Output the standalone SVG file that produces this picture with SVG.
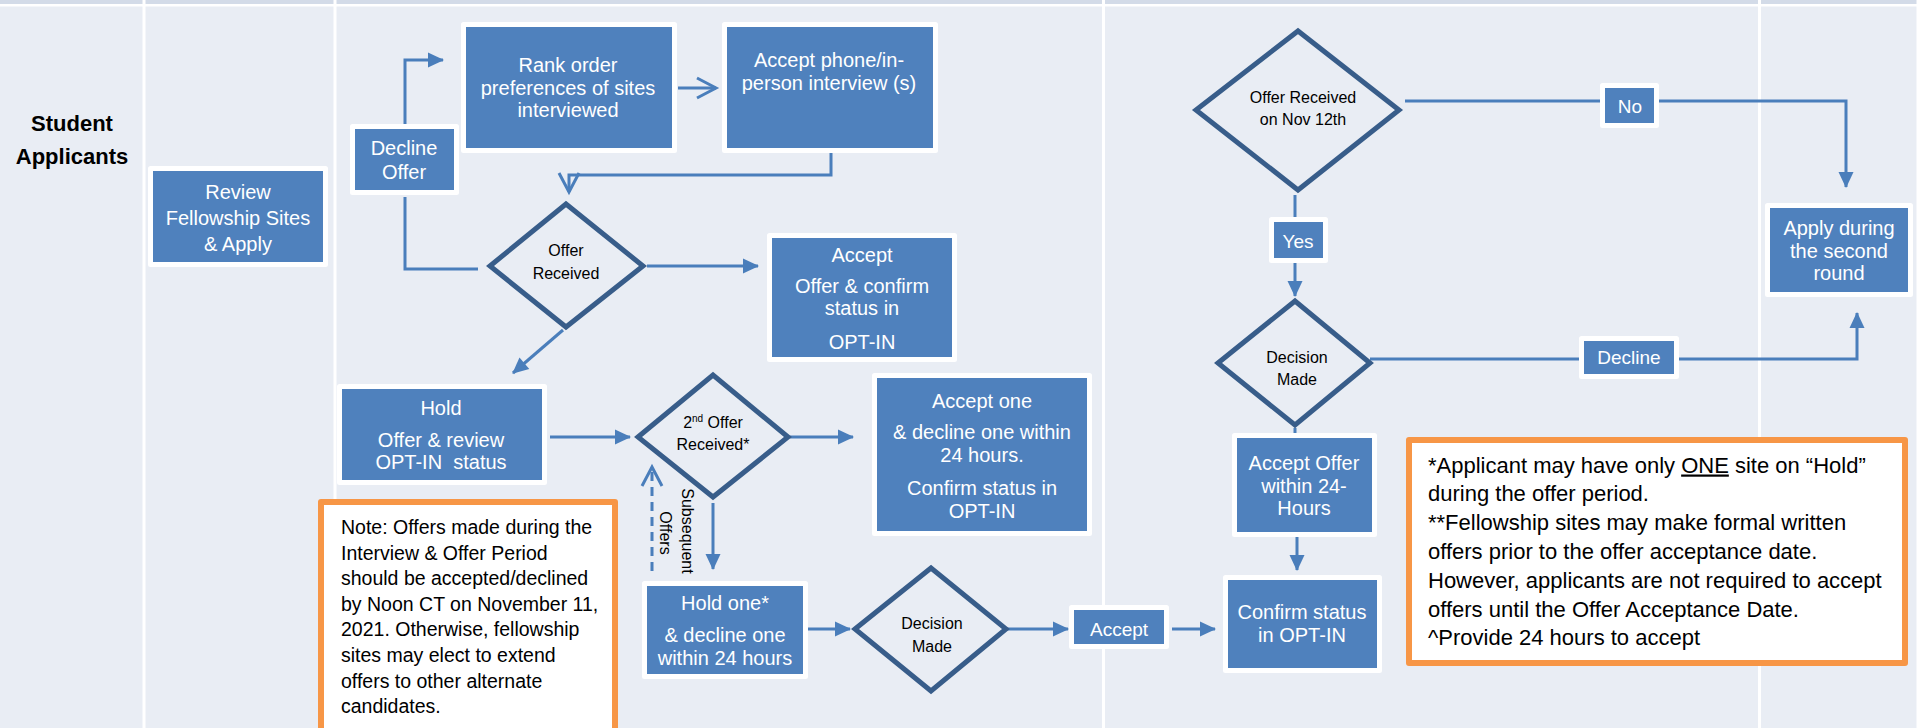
<svg xmlns="http://www.w3.org/2000/svg" width="1920" height="728" viewBox="0 0 1920 728">
<style>
.box{fill:#4F81BD;stroke:#FFFFFF;stroke-width:5;stroke-linejoin:round}
.dia{fill:#E9EDF4;stroke:#385D8A;stroke-width:5;stroke-linejoin:miter}
.bt{font-family:"Liberation Sans",Arial,sans-serif;font-size:20px;fill:#FFFFFF;text-anchor:middle}
.lt{font-family:"Liberation Sans",Arial,sans-serif;font-size:19px;fill:#FFFFFF;text-anchor:middle}
.dt{font-family:"Liberation Sans",Arial,sans-serif;font-size:16px;fill:#000000;text-anchor:middle}
.nt{font-family:"Liberation Sans",Arial,sans-serif;fill:#000000}
.note{fill:#FFFFFF;stroke:#F79646;stroke-width:6;stroke-linejoin:round}
.con{fill:none;stroke:#4A7EBB;stroke-width:3}
.lane{fill:#FFFFFF}
</style>
<defs>
<marker id="tri" markerUnits="userSpaceOnUse" markerWidth="16" markerHeight="15" refX="15" refY="7.5" orient="auto" overflow="visible">
<path d="M0,0 L16,7.5 L0,15 Z" fill="#4A7EBB"/>
</marker>
<marker id="vee" markerUnits="userSpaceOnUse" markerWidth="20" markerHeight="22" refX="19" refY="10" orient="auto" overflow="visible">
<path d="M0,0 L19,10 L0,20" fill="none" stroke="#4A7EBB" stroke-width="3"/>
</marker>
</defs>

<g id="background">
<rect x="0" y="0" width="1920" height="728" fill="#E9EDF4"/>
<rect x="0" y="0" width="1920" height="4" fill="#D3DBE8"/>
<rect x="0" y="4" width="1920" height="2.5" class="lane"/>
<rect x="142.5" y="0" width="3" height="728" class="lane"/>
<rect x="333.5" y="0" width="3" height="728" class="lane"/>
<rect x="1102" y="0" width="3" height="728" class="lane"/>
<rect x="1758" y="0" width="3" height="728" class="lane"/>
<rect x="1916.5" y="0" width="3.5" height="728" class="lane"/>
</g>

<g id="lane-label">
<text class="nt" x="72" y="131" font-size="22" font-weight="bold" text-anchor="middle">Student</text>
<text class="nt" x="72" y="164" font-size="22" font-weight="bold" text-anchor="middle">Applicants</text>
</g>

<g id="connectors">
<path class="con" d="M478,269 H405 V197"/>
<path class="con" d="M405,124 V60 H443" marker-end="url(#tri)"/>
<path class="con" d="M678,88 H716" marker-end="url(#vee)"/>
<path class="con" d="M831,153 V175 H569 V192" marker-end="url(#vee)"/>
<path class="con" d="M647,266 H758" marker-end="url(#tri)"/>
<path class="con" d="M563,330 L513,373" marker-end="url(#tri)"/>
<path class="con" d="M550,437 H630" marker-end="url(#tri)"/>
<path class="con" d="M790,437 H853" marker-end="url(#tri)"/>
<path class="con" d="M713,503 V569" marker-end="url(#tri)"/>
<path class="con" d="M652,571 V467" stroke-dasharray="9,6" marker-end="url(#vee)"/>
<path class="con" d="M807,629 H850" marker-end="url(#tri)"/>
<path class="con" d="M1007,629 H1068" marker-end="url(#tri)"/>
<path class="con" d="M1172,629 H1215" marker-end="url(#tri)"/>
<path class="con" d="M1405,101 H1846 V187" marker-end="url(#tri)"/>
<path class="con" d="M1295,195 V217"/>
<path class="con" d="M1295,263 V296" marker-end="url(#tri)"/>
<path class="con" d="M1370,359 H1857 V313" marker-end="url(#tri)"/>
<path class="con" d="M1295,428 V433"/>
<path class="con" d="M1297,537 V570" marker-end="url(#tri)"/>
</g>

<g id="review">
<rect class="box" x="150.5" y="168.5" width="175" height="96"/>
<text class="bt" font-size="21" x="238" y="199">Review</text>
<text class="bt" font-size="21" x="238" y="225">Fellowship Sites</text>
<text class="bt" font-size="21" x="238" y="251">&amp; Apply</text>
</g>

<g id="decline-offer">
<rect class="box" x="352.5" y="126.5" width="104" height="66"/>
<text class="bt" x="404" y="155">Decline</text>
<text class="bt" x="404" y="179">Offer</text>
</g>

<g id="rank-order">
<rect class="box" x="463.5" y="24.5" width="211" height="126"/>
<text class="bt" x="568" y="72">Rank order</text>
<text class="bt" x="568" y="95">preferences of sites</text>
<text class="bt" x="568" y="117">interviewed</text>
</g>

<g id="accept-interview">
<rect class="box" x="724.5" y="24.5" width="211" height="126"/>
<text class="bt" x="829" y="67">Accept phone/in-</text>
<text class="bt" x="829" y="90">person interview (s)</text>
</g>

<g id="offer-received">
<polygon class="dia" points="490,266 566,204 643,266 566,327"/>
<text class="dt" x="566" y="256">Offer</text>
<text class="dt" x="566" y="279">Received</text>
</g>

<g id="accept-offer">
<rect class="box" x="769.5" y="235.5" width="185" height="124"/>
<text class="bt" x="862" y="262">Accept</text>
<text class="bt" x="862" y="293">Offer &amp; confirm</text>
<text class="bt" x="862" y="315">status in</text>
<text class="bt" x="862" y="349">OPT-IN</text>
</g>

<g id="hold">
<rect class="box" x="339.5" y="386.5" width="205" height="96"/>
<text class="bt" x="441" y="415">Hold</text>
<text class="bt" x="441" y="447">Offer &amp; review</text>
<text class="bt" x="441" y="469" xml:space="preserve">OPT-IN  status</text>
</g>

<g id="second-offer">
<polygon class="dia" points="638,437 713,375 788,437 713,497"/>
<text class="dt" x="713" y="428">2<tspan font-size="10" dy="-6">nd</tspan><tspan dy="6"> Offer</tspan></text>
<text class="dt" x="713" y="450">Received*</text>
</g>

<g id="accept-one">
<rect class="box" x="874.5" y="375.5" width="215" height="158"/>
<text class="bt" x="982" y="408">Accept one</text>
<text class="bt" x="982" y="439">&amp; decline one within</text>
<text class="bt" x="982" y="462">24 hours.</text>
<text class="bt" x="982" y="495">Confirm status in</text>
<text class="bt" x="982" y="518">OPT-IN</text>
</g>

<g id="subsequent-offers">
<text class="dt" transform="translate(682,531) rotate(90)">Subsequent</text>
<text class="dt" transform="translate(660,533) rotate(90)">Offers</text>
</g>

<g id="hold-one">
<rect class="box" x="644.5" y="583.5" width="161" height="93"/>
<text class="bt" x="725" y="610">Hold one*</text>
<text class="bt" x="725" y="642">&amp; decline one</text>
<text class="bt" x="725" y="665">within 24 hours</text>
</g>

<g id="decision-made-1">
<polygon class="dia" points="855,629 931,568 1006,629 931,691"/>
<text class="dt" x="932" y="629">Decision</text>
<text class="dt" x="932" y="652">Made</text>
</g>

<g id="accept-label">
<rect class="box" x="1071.5" y="607.5" width="95" height="39"/>
<text class="lt" x="1119" y="636">Accept</text>
</g>

<g id="confirm-status">
<rect class="box" x="1225.5" y="577.5" width="154" height="93"/>
<text class="bt" x="1302" y="619">Confirm status</text>
<text class="bt" x="1302" y="642">in OPT-IN</text>
</g>

<g id="offer-nov12">
<polygon class="dia" points="1196,110 1298,31 1399,110 1298,190"/>
<text class="dt" x="1303" y="103">Offer Received</text>
<text class="dt" x="1303" y="125">on Nov 12th</text>
</g>

<g id="yes-label">
<rect class="box" x="1271.5" y="219.5" width="54" height="41"/>
<text class="lt" x="1298" y="248">Yes</text>
</g>

<g id="decision-made-2">
<polygon class="dia" points="1218,363 1295,301 1370,363 1295,425"/>
<text class="dt" x="1297" y="363">Decision</text>
<text class="dt" x="1297" y="385">Made</text>
</g>

<g id="accept-24">
<rect class="box" x="1234.5" y="435.5" width="140" height="99"/>
<text class="bt" x="1304" y="470">Accept Offer</text>
<text class="bt" x="1304" y="493">within 24-</text>
<text class="bt" x="1304" y="515">Hours</text>
</g>

<g id="no-label">
<rect class="box" x="1602.5" y="85.5" width="54" height="40"/>
<text class="lt" x="1630" y="113">No</text>
</g>

<g id="decline-label">
<rect class="box" x="1581.5" y="338.5" width="95" height="38"/>
<text class="lt" x="1629" y="364">Decline</text>
</g>

<g id="apply-second">
<rect class="box" x="1767.5" y="205.5" width="143" height="89"/>
<text class="bt" x="1839" y="235">Apply during</text>
<text class="bt" x="1839" y="258">the second</text>
<text class="bt" x="1839" y="280">round</text>
</g>

<g id="note-left">
<rect class="note" x="321" y="502" width="294" height="250"/>
<g class="nt" font-size="19.5">
<text x="341" y="534">Note: Offers made during the</text>
<text x="341" y="559.6">Interview &amp; Offer Period</text>
<text x="341" y="585.2">should be accepted/declined</text>
<text x="341" y="610.8">by Noon CT on November 11,</text>
<text x="341" y="636.4">2021. Otherwise, fellowship</text>
<text x="341" y="662">sites may elect to extend</text>
<text x="341" y="687.6">offers to other alternate</text>
<text x="341" y="713.2">candidates.</text>
</g>
</g>

<g id="note-right">
<rect class="note" x="1409" y="440" width="496" height="223"/>
<g class="nt" font-size="22">
<text x="1428" y="472.5">*Applicant may have only <tspan text-decoration="underline">ONE</tspan> site on “Hold”</text>
<text x="1428" y="501.3">during the offer period.</text>
<text x="1428" y="530.1">**Fellowship sites may make formal written</text>
<text x="1428" y="558.9">offers prior to the offer acceptance date.</text>
<text x="1428" y="587.7">However, applicants are not required to accept</text>
<text x="1428" y="616.5">offers until the Offer Acceptance Date.</text>
<text x="1428" y="645.3">^Provide 24 hours to accept</text>
</g>
</g>
</svg>
